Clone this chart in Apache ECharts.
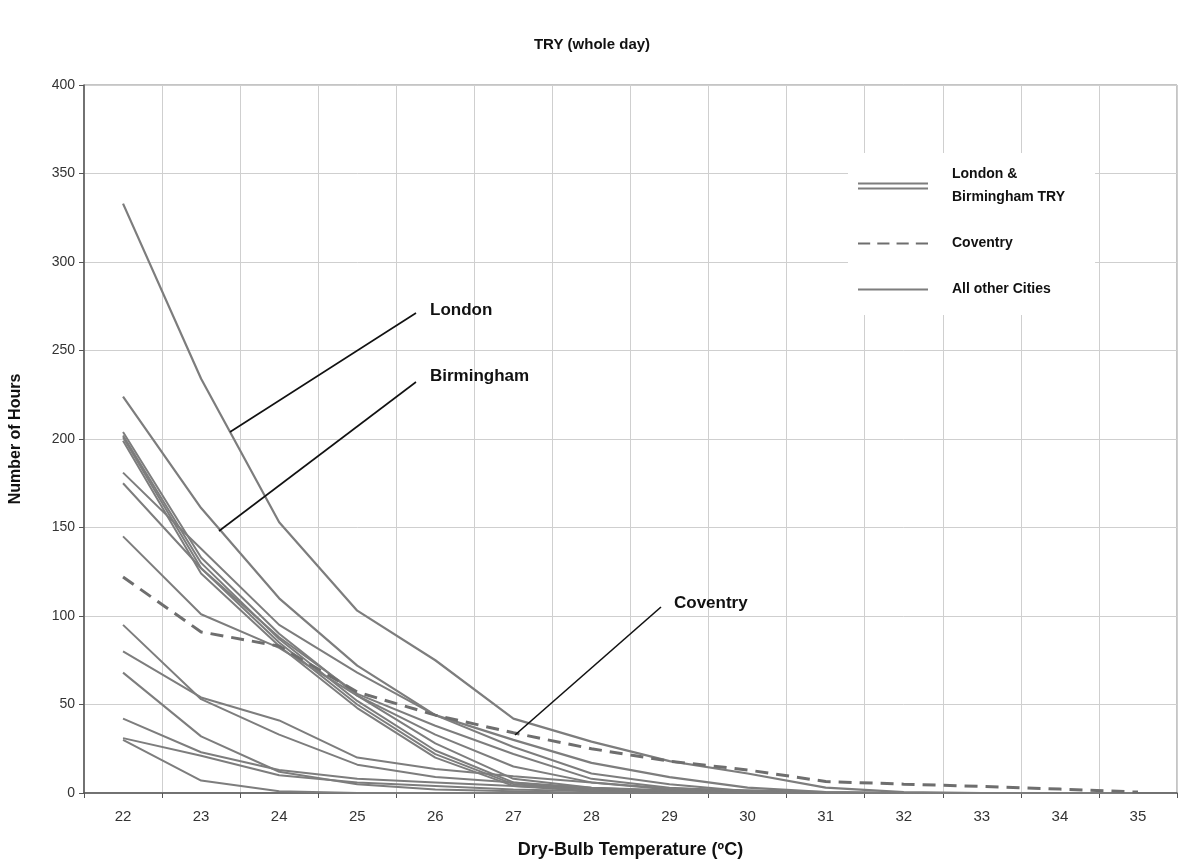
<!DOCTYPE html>
<html>
<head>
<meta charset="utf-8">
<title>TRY (whole day)</title>
<script src="https://cdn.jsdelivr.net/npm/echarts@6/dist/echarts.min.js"></script>
<style>
  html, body { margin: 0; padding: 0; background: #fff; }
  #chart { width: 1184px; height: 866px; }
</style>
</head>
<body>
<div id="chart"></div>
<script>
// temperatures (deg C) on the x axis
var categories = ['22', '23', '24', '25', '26', '27', '28', '29', '30', '31', '32', '33', '34', '35'];
var yTicks = [0, 50, 100, 150, 200, 250, 300, 350, 400];

// hours above each temperature
var london     = [333, 234, 153, 103, 75, 42, 29, 18, 11, 3, 0.5, 0, 0, 0];
var birmingham = [224, 161, 110, 72, 44, 30, 17, 9, 3, 0.5, 0, 0, 0, 0];
var coventry   = [122, 91, 83, 57, 44, 34, 25, 18, 13, 6.5, 5, 3.7, 2.2, 0.5];

// all the other cities
var city1  = [181, 138, 95, 68, 44, 26, 11, 5, 1, 0, 0, 0, 0, 0];
var city2  = [175, 127, 88, 56, 38, 22, 8, 3, 1, 0, 0, 0, 0, 0];
var city3  = [145, 101, 82, 55, 33, 15, 6, 2, 0.5, 0, 0, 0, 0, 0];
var city4  = [204, 133, 90, 55, 28, 8, 3, 1, 0, 0, 0, 0, 0, 0];
var city5  = [202, 130, 87, 52, 24, 6, 2, 0.5, 0, 0, 0, 0, 0, 0];
var city6  = [201, 127, 85, 50, 22, 5, 2, 0, 0, 0, 0, 0, 0, 0];
var city7  = [199, 124, 83, 48, 20, 4, 1, 0, 0, 0, 0, 0, 0, 0];
var city8  = [95, 53, 33, 16, 9, 6, 3, 1.5, 0.5, 0, 0, 0, 0, 0];
var city9  = [80, 54, 41, 20, 13.5, 9.5, 6, 2.5, 1.5, 0.5, 0, 0, 0, 0];
var city10 = [68, 32, 12, 5, 2, 1, 0, 0, 0, 0, 0, 0, 0, 0];
var city11 = [42, 23, 13, 8, 6, 4, 2, 1, 0, 0, 0, 0, 0, 0];
var city12 = [31, 21, 10, 6, 4, 2, 1, 0, 0, 0, 0, 0, 0, 0];
var city13 = [30, 7, 1, 0, 0, 0, 0, 0, 0, 0, 0, 0, 0, 0];
var otherCities = [city1, city2, city3, city4, city5, city6, city7, city8, city9, city10, city11, city12, city13];

var TRY_NAME = 'London & Birmingham TRY';
var OTHER_NAME = 'All other Cities';
var lineGrey = '#7d7d7d';
var font = 'Liberation Sans, Arial, sans-serif';
var narrowFont = 'Liberation Sans Narrow, Liberation Sans, Arial, sans-serif';

var chart = echarts.init(document.getElementById('chart'));

function greyLine(name, data, width) {
  return {
    name: name,
    type: 'line',
    data: data,
    symbol: 'none',
    z: 3,
    itemStyle: { color: lineGrey },
    lineStyle: { color: lineGrey, width: width }
  };
}

var series = [];
otherCities.forEach(function (c) {
  series.push(greyLine(OTHER_NAME, c, 2));
});
series.push(greyLine(TRY_NAME, birmingham, 2.2));
series.push(greyLine(TRY_NAME, london, 2.2));
series.push({
  name: 'Coventry',
  type: 'line',
  data: coventry,
  symbol: 'none',
  z: 5,
  itemStyle: { color: '#6e6e6e' },
  lineStyle: { color: '#6e6e6e', width: 3, type: [13, 8] }
});

var option = {
  animation: false,
  backgroundColor: '#fff',
  title: {
    text: 'TRY (whole day)',
    left: 'center',
    top: 32,
    textStyle: { fontFamily: font, fontWeight: 'bold', fontSize: 15, color: '#111' }
  },
  grid: {
    left: 83, right: 7, top: 85, bottom: 73,
    show: true, borderColor: '#8a8a8a', borderWidth: 1
  },
  legend: {
    orient: 'vertical',
    left: 848,
    top: 153,
    padding: [10, 30, 14, 10],
    backgroundColor: '#fff',
    itemWidth: 70,
    itemHeight: 7,
    itemGap: 23,
    data: [
      { name: TRY_NAME, icon: 'path://M0,0H70V2H0Z M0,5H70V7H0Z', itemStyle: { color: lineGrey } },
      { name: 'Coventry', icon: 'path://M0,0H12V2H0Z M19,0H31V2H19Z M38,0H50V2H38Z M57,0H69V2H57Z', itemStyle: { color: '#6e6e6e' } },
      { name: OTHER_NAME, icon: 'path://M0,0H70V2H0Z', itemStyle: { color: lineGrey } }
    ],
    formatter: function (name) {
      return name === TRY_NAME ? 'London &\nBirmingham TRY' : name;
    },
    textStyle: { fontFamily: font, fontWeight: 'bold', fontSize: 14, color: '#111', lineHeight: 23, padding: [0, 0, 0, 19] }
  },
  xAxis: {
    type: 'category',
    data: categories,
    boundaryGap: true,
    name: 'Dry-Bulb Temperature (ºC)',
    nameLocation: 'middle',
    nameGap: 48,
    nameTextStyle: { fontFamily: narrowFont, fontWeight: 'bold', fontSize: 18, color: '#111' },
    axisLine: { lineStyle: { color: '#555', width: 1.5 } },
    axisTick: { show: true, length: 5, lineStyle: { color: '#555' } },
    axisLabel: { margin: 16, fontFamily: narrowFont, fontSize: 15, color: '#333' },
    splitLine: { show: true, lineStyle: { color: '#cfcfcf', width: 1 } }
  },
  yAxis: {
    type: 'value',
    min: 0,
    max: yTicks[yTicks.length - 1],
    interval: yTicks[1] - yTicks[0],
    name: 'Number of Hours',
    nameLocation: 'middle',
    nameGap: 60,
    nameTextStyle: { fontFamily: font, fontWeight: 'bold', fontSize: 16, color: '#111' },
    axisLine: { show: true, lineStyle: { color: '#555', width: 1.5 } },
    axisTick: { show: true, length: 5, lineStyle: { color: '#555' } },
    axisLabel: { margin: 9, fontFamily: font, fontSize: 14, color: '#333' },
    splitLine: { show: true, lineStyle: { color: '#cfcfcf', width: 1 } }
  },
  // callout lines and labels
  graphic: [
    { type: 'line', z: 10, shape: { x1: 230, y1: 432, x2: 416, y2: 313 }, style: { stroke: '#111', lineWidth: 1.6 } },
    { type: 'line', z: 10, shape: { x1: 219, y1: 531, x2: 416, y2: 382 }, style: { stroke: '#111', lineWidth: 1.6 } },
    { type: 'line', z: 10, shape: { x1: 515, y1: 735, x2: 661, y2: 607 }, style: { stroke: '#111', lineWidth: 1.6 } },
    { type: 'text', z: 10, left: 430, top: 302, style: { text: 'London', fontSize: 17, fontFamily: font, fontWeight: 'bold', fill: '#111' } },
    { type: 'text', z: 10, left: 430, top: 368, style: { text: 'Birmingham', fontSize: 17, fontFamily: font, fontWeight: 'bold', fill: '#111' } },
    { type: 'text', z: 10, left: 674, top: 595, style: { text: 'Coventry', fontSize: 17, fontFamily: font, fontWeight: 'bold', fill: '#111' } }
  ],
  series: series
};

chart.setOption(option);
</script>
</body>
</html>
